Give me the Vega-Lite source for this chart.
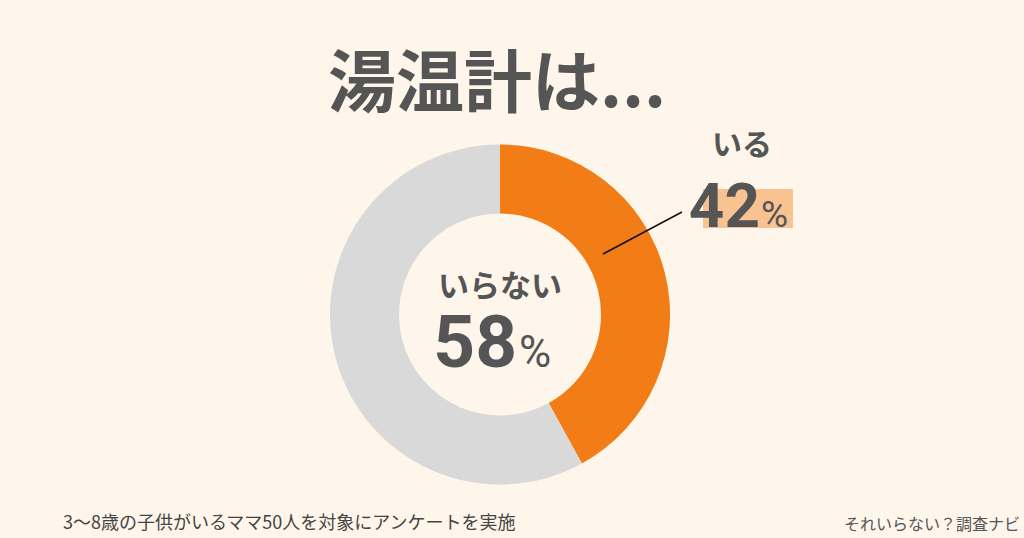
{
  "$schema": "https://vega.github.io/schema/vega-lite/v6.json",
  "width": 1024,
  "height": 538,
  "autosize": {"type": "fit", "contains": "padding"},
  "padding": 0,
  "background": "#FEF6EA",
  "config": {"view": {"stroke": null}, "axis": {"disable": true}},
  "datasets": {
    "survey": [
      {"answer": "いる", "pct": 42},
      {"answer": "いらない", "pct": 58}
    ],
    "notes": [
      {"kind": "title", "label": "湯温計は..."},
      {"kind": "source", "label": "3〜8歳の子供がいるママ50人を対象にアンケートを実施"},
      {"kind": "brand", "label": "それいらない？調査ナビ"},
      {"kind": "unit", "label": "%"}
    ]
  },
  "layer": [
    {
      "data": {"name": "survey"},
      "mark": {"type": "arc", "outerRadius": 170, "innerRadius": 101},
      "encoding": {
        "theta": {"field": "pct", "type": "quantitative", "stack": true},
        "color": {"field": "answer", "type": "nominal", "scale": {"domain": ["いる", "いらない"], "range": ["#F27C15", "#D9D9D9"]}, "legend": null},
        "order": {"field": "pct", "type": "quantitative", "sort": "ascending"},
        "x": {"datum": 48.83, "type": "quantitative", "scale": {"domain": [0, 100]}},
        "y": {"datum": 58.46, "type": "quantitative", "scale": {"domain": [0, 100], "reverse": true}}
      }
    },
    {
      "data": {"name": "survey"},
      "transform": [{"filter": "datum.answer == 'いる'"}],
      "mark": {"type": "rect", "color": "#F8C291"},
      "encoding": {
        "x": {"datum": 68.65, "type": "quantitative", "scale": {"domain": [0, 100]}},
        "x2": {"datum": 77.44},
        "y": {"datum": 35.13, "type": "quantitative", "scale": {"domain": [0, 100], "reverse": true}},
        "y2": {"datum": 42.38}
      }
    },
    {
      "data": {"name": "survey"},
      "transform": [{"filter": "datum.answer == 'いる'"}],
      "mark": {"type": "rule", "color": "#111111", "strokeWidth": 1.5},
      "encoding": {
        "x": {"datum": 58.89, "type": "quantitative", "scale": {"domain": [0, 100]}},
        "x2": {"datum": 66.6},
        "y": {"datum": 47.21, "type": "quantitative", "scale": {"domain": [0, 100], "reverse": true}},
        "y2": {"datum": 39.41}
      }
    },
    {
      "data": {"name": "notes"},
      "transform": [{"filter": "datum.kind == 'title'"}],
      "mark": {"type": "text", "font": "Noto Sans CJK JP", "fontWeight": "bold", "fontSize": 68, "color": "#555555", "align": "center", "baseline": "middle"},
      "encoding": {
        "text": {"field": "label"},
        "x": {"datum": 48.54, "type": "quantitative", "scale": {"domain": [0, 100]}},
        "y": {"datum": 16.08, "type": "quantitative", "scale": {"domain": [0, 100], "reverse": true}}
      }
    },
    {
      "data": {"name": "survey"},
      "transform": [{"filter": "datum.answer == 'いらない'"}],
      "mark": {"type": "text", "font": "Noto Sans CJK JP", "fontWeight": "bold", "fontSize": 31, "color": "#555555", "align": "center", "baseline": "middle"},
      "encoding": {
        "text": {"field": "answer"},
        "x": {"datum": 48.83, "type": "quantitative", "scale": {"domain": [0, 100]}},
        "y": {"datum": 53.5, "type": "quantitative", "scale": {"domain": [0, 100], "reverse": true}}
      }
    },
    {
      "data": {"name": "survey"},
      "transform": [{"filter": "datum.answer == 'いらない'"}],
      "mark": {"type": "text", "font": "Roboto", "fontWeight": "bold", "fontSize": 73, "color": "#555555", "align": "right", "baseline": "alphabetic"},
      "encoding": {
        "text": {"field": "pct"},
        "x": {"datum": 50.49, "type": "quantitative", "scale": {"domain": [0, 100]}},
        "y": {"datum": 68.22, "type": "quantitative", "scale": {"domain": [0, 100], "reverse": true}}
      }
    },
    {
      "data": {"name": "notes"},
      "transform": [{"filter": "datum.kind == 'unit'"}],
      "mark": {"type": "text", "font": "Roboto", "fontWeight": "normal", "fontSize": 44, "color": "#555555", "align": "left", "baseline": "alphabetic"},
      "encoding": {
        "text": {"field": "label"},
        "x": {"datum": 50.68, "type": "quantitative", "scale": {"domain": [0, 100]}},
        "y": {"datum": 68.22, "type": "quantitative", "scale": {"domain": [0, 100], "reverse": true}}
      }
    },
    {
      "data": {"name": "survey"},
      "transform": [{"filter": "datum.answer == 'いる'"}],
      "mark": {"type": "text", "font": "Noto Sans CJK JP", "fontWeight": "bold", "fontSize": 30, "color": "#555555", "align": "center", "baseline": "middle"},
      "encoding": {
        "text": {"field": "answer"},
        "x": {"datum": 72.46, "type": "quantitative", "scale": {"domain": [0, 100]}},
        "y": {"datum": 27.14, "type": "quantitative", "scale": {"domain": [0, 100], "reverse": true}}
      }
    },
    {
      "data": {"name": "survey"},
      "transform": [{"filter": "datum.answer == 'いる'"}],
      "mark": {"type": "text", "font": "Roboto", "fontWeight": "bold", "fontSize": 62, "color": "#555555", "align": "right", "baseline": "alphabetic"},
      "encoding": {
        "text": {"field": "pct"},
        "x": {"datum": 74.22, "type": "quantitative", "scale": {"domain": [0, 100]}},
        "y": {"datum": 42.19, "type": "quantitative", "scale": {"domain": [0, 100], "reverse": true}}
      }
    },
    {
      "data": {"name": "notes"},
      "transform": [{"filter": "datum.kind == 'unit'"}],
      "mark": {"type": "text", "font": "Roboto", "fontWeight": "normal", "fontSize": 37, "color": "#555555", "align": "left", "baseline": "alphabetic"},
      "encoding": {
        "text": {"field": "label"},
        "x": {"datum": 74.32, "type": "quantitative", "scale": {"domain": [0, 100]}},
        "y": {"datum": 42.19, "type": "quantitative", "scale": {"domain": [0, 100], "reverse": true}}
      }
    },
    {
      "data": {"name": "notes"},
      "transform": [{"filter": "datum.kind == 'source'"}],
      "mark": {"type": "text", "font": "Noto Sans CJK JP", "fontWeight": "normal", "fontSize": 18, "color": "#444444", "align": "left", "baseline": "middle"},
      "encoding": {
        "text": {"field": "label"},
        "x": {"datum": 6.15, "type": "quantitative", "scale": {"domain": [0, 100]}},
        "y": {"datum": 97.49, "type": "quantitative", "scale": {"domain": [0, 100], "reverse": true}}
      }
    },
    {
      "data": {"name": "notes"},
      "transform": [{"filter": "datum.kind == 'brand'"}],
      "mark": {"type": "text", "font": "Noto Sans CJK JP", "fontWeight": "normal", "fontSize": 16, "color": "#555555", "align": "right", "baseline": "middle"},
      "encoding": {
        "text": {"field": "label"},
        "x": {"datum": 99.61, "type": "quantitative", "scale": {"domain": [0, 100]}},
        "y": {"datum": 97.58, "type": "quantitative", "scale": {"domain": [0, 100], "reverse": true}}
      }
    }
  ]
}
